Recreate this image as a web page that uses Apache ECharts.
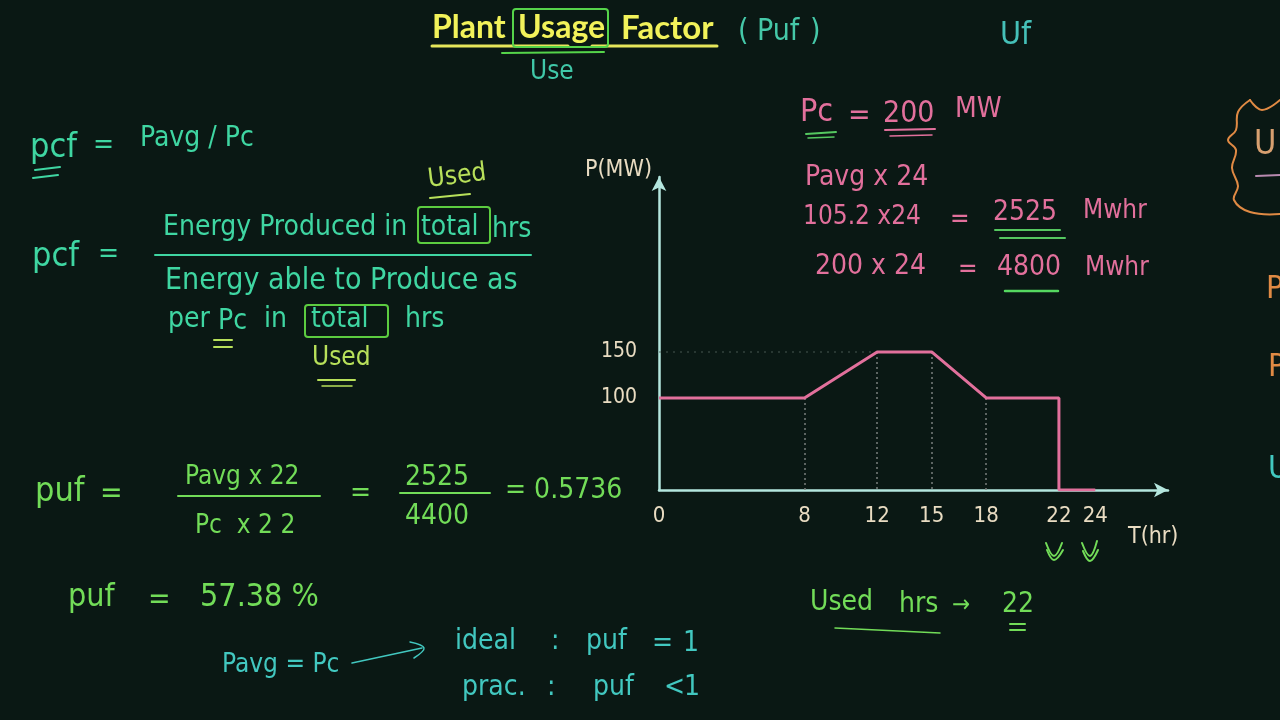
<!DOCTYPE html>
<html>
<head>
<meta charset="utf-8">
<script src="https://cdn.jsdelivr.net/npm/echarts@6/dist/echarts.min.js"></script>
<style>
html,body{margin:0;padding:0;background:#0a1814;}
#chart{width:1280px;height:720px;}
</style>
</head>
<body>
<div id="chart"></div>
<script>
// ---- data ----
var hours = [0, 8, 12, 15, 18, 22, 22, 24];
var power = [100, 100, 150, 150, 100, 100, 0, 0];
var xTickLabels = [0, 8, 12, 15, 18, 22, 24];
var yTickLabels = [100, 150];
var dropHours = [8, 12, 15, 18];
var peakGuide = [0, 12];   // hours spanned by the dotted 150 guide
var peakValue = 150;

var HAND = "'Liberation Sans Narrow','DejaVu Sans Condensed','Noto Sans',sans-serif";
var TICK = "'Liberation Sans Narrow','DejaVu Sans Condensed',sans-serif";
var BEIGE = '#e9dcc2';
var AXIS = '#b4e6de';
var PINK = '#e2709c';
var TEAL = '#3fd6a2';
var GREEN = '#72dc58';
var CYAN = '#42c8c0';
var YGREEN = '#b8e05a';
var ORANGE = '#e08a44';

var lineData = hours.map(function (h, i) { return [h, power[i]]; });
function powerAt(h) { return power[hours.indexOf(h)]; }
var drops = dropHours.map(function (h) {
  return [{ coord: [h, powerAt(h)] }, { coord: [h, 0] }];
});
drops.push([{ coord: [peakGuide[0], peakValue], lineStyle: { color: '#4f5e59', opacity: 0.6, type: [2, 5] } },
            { coord: [peakGuide[1], peakValue] }]);

function T(x, y, text, color, size, extra) {
  var s = { text: text, x: x, y: y, fill: color, font: (extra && extra.bold ? 'bold ' : '') + size + 'px ' + ((extra && extra.family) || HAND), verticalAlign: 'middle', align: (extra && extra.align) || 'left' };
  var el = { type: 'text', style: s, silent: true };
  if (extra && extra.rotation) { el.rotation = extra.rotation; el.originX = x; el.originY = y; }
  return el;
}
function L(x1, y1, x2, y2, color, w) {
  return { type: 'line', shape: { x1: x1, y1: y1, x2: x2, y2: y2 }, style: { stroke: color, lineWidth: w || 2, lineCap: 'round' }, silent: true };
}
function R(x, y, w, h, color) {
  return { type: 'rect', shape: { x: x, y: y, width: w, height: h, r: 3 }, style: { fill: 'none', stroke: color, lineWidth: 2 }, silent: true };
}
function P(points, color, w) {
  return { type: 'polyline', shape: { points: points, smooth: 0.4 }, style: { fill: 'none', stroke: color, lineWidth: w || 2, lineCap: 'round', lineJoin: 'round' }, silent: true };
}

var TITLEF = { bold: true, family: "Lato,'Open Sans',sans-serif" };
var graphics = [
  // title
  T(432, 28, 'Plant', '#f2f25a', 32, TITLEF),
  T(518, 28, 'Usage', '#f2f25a', 32, TITLEF),
  T(621, 28, 'Factor', '#f2f25a', 33, TITLEF),
  L(432, 46, 568, 46, '#e6e65a', 3),
  L(592, 46, 717, 46, '#e6e65a', 3),
  R(513, 9, 95, 38, '#55d44a'),
  L(502, 53, 604, 52, '#55d44a', 2),
  T(738, 32, '(', '#45c8a8', 30),
  T(757, 32, 'Puf', '#45c8a8', 30),
  T(810, 32, ')', '#45c8a8', 30),
  T(530, 72, 'Use', '#40c8a8', 26),
  T(1000, 36, 'Uf', '#45c0b8', 32),

  // pcf = Pavg/Pc
  T(30, 148, 'pcf', TEAL, 34),
  T(93, 146, '=', TEAL, 28),
  T(140, 139, 'Pavg / Pc', TEAL, 28),
  L(35, 170, 60, 167, TEAL, 2), L(33, 178, 58, 175, TEAL, 2),
  T(428, 180, 'Used', YGREEN, 26, { rotation: 0.12 }),
  L(430, 198, 470, 194, YGREEN, 2),

  // pcf fraction
  T(32, 257, 'pcf', TEAL, 34),
  T(98, 255, '=', TEAL, 28),
  T(163, 228, 'Energy Produced in', TEAL, 28),
  T(421, 228, 'total', TEAL, 28),
  T(492, 230, 'hrs', TEAL, 28),
  R(418, 207, 72, 36, '#5ccc40'),
  L(155, 255, 531, 255, TEAL, 2),
  T(165, 281, 'Energy able to Produce as', TEAL, 30),
  T(168, 320, 'per', TEAL, 28),
  T(218, 322, 'Pc', TEAL, 28),
  T(264, 320, 'in', TEAL, 28),
  T(311, 320, 'total', TEAL, 28),
  T(405, 320, 'hrs', TEAL, 28),
  R(305, 305, 83, 32, '#5ccc40'),
  L(214, 340, 232, 340, YGREEN, 2), L(214, 347, 232, 347, YGREEN, 2),
  T(312, 358, 'Used', YGREEN, 26),
  L(318, 380, 355, 380, YGREEN, 2), L(322, 386, 352, 386, YGREEN, 1.5),

  // puf computation
  T(35, 492, 'puf', GREEN, 34),
  T(100, 494, '=', GREEN, 30),
  T(185, 477, 'Pavg x 22', GREEN, 26),
  L(178, 496, 320, 496, GREEN, 2),
  T(195, 526, 'Pc  x 2 2', GREEN, 26),
  T(350, 494, '=', GREEN, 28),
  T(405, 478, '2525', GREEN, 28),
  L(400, 493, 490, 493, GREEN, 2),
  T(405, 517, '4400', GREEN, 28),
  T(505, 491, '= 0.5736', GREEN, 28),
  T(68, 598, 'puf', GREEN, 32),
  T(148, 600, '=', GREEN, 30),
  T(200, 598, '57.38 %', GREEN, 32),

  // ideal / practical
  T(222, 665, 'Pavg = Pc', CYAN, 26),
  L(352, 663, 422, 648, CYAN, 1.5),
  P([[410, 642], [424, 648], [414, 658]], CYAN, 1.5),
  T(455, 642, 'ideal', CYAN, 28),
  T(551, 642, ':', CYAN, 28),
  T(586, 642, 'puf', CYAN, 28),
  T(652, 644, '=', CYAN, 28),
  T(683, 644, '1', CYAN, 28),
  T(462, 688, 'prac.', CYAN, 28),
  T(547, 688, ':', CYAN, 28),
  T(593, 688, 'puf', CYAN, 28),
  T(664, 688, '<', CYAN, 28),
  T(684, 688, '1', CYAN, 28),

  // pink calculations
  T(800, 113, 'Pc', PINK, 32),
  T(848, 116, '=', PINK, 30),
  T(883, 114, '200', PINK, 30),
  T(955, 110, 'MW', PINK, 28),
  L(806, 134, 836, 132, '#55c860', 2), L(808, 138, 834, 137, '#55c860', 1.5),
  L(885, 130, 935, 129, PINK, 2), L(890, 136, 932, 135, PINK, 1.5),
  T(805, 178, 'Pavg x 24', PINK, 28),
  T(803, 217, '105.2 x24', PINK, 26),
  T(950, 220, '=', PINK, 26),
  T(993, 213, '2525', PINK, 28),
  T(1083, 211, 'Mwhr', PINK, 26),
  L(995, 230, 1060, 230, '#55c860', 2), L(1000, 238, 1065, 238, '#55c860', 2),
  T(815, 267, '200 x 24', PINK, 28),
  T(958, 270, '=', PINK, 26),
  T(997, 268, '4800', PINK, 28),
  T(1085, 268, 'Mwhr', PINK, 26),
  L(1005, 291, 1058, 291, '#55d860', 2.5),

  // used hrs
  T(810, 603, 'Used', GREEN, 28),
  T(899, 605, 'hrs', GREEN, 28),
  T(952, 606, '\u2192', GREEN, 24),
  T(1002, 605, '22', GREEN, 28),
  L(835, 628, 940, 633, GREEN, 1.5),
  L(1010, 624, 1025, 624, GREEN, 2), L(1010, 630, 1025, 630, GREEN, 2),
  P([[1046, 543], [1054, 556], [1062, 543]], GREEN, 2),
  P([[1047, 550], [1054, 560], [1063, 550]], GREEN, 2),
  P([[1082, 543], [1090, 556], [1097, 541]], GREEN, 2),
  P([[1083, 551], [1090, 561], [1098, 550]], GREEN, 2),

  // right edge fragments
  P([[1250, 100], [1238, 112], [1236, 130], [1228, 140], [1236, 150], [1232, 168], [1238, 186], [1234, 200], [1250, 212], [1280, 214]], ORANGE, 2),
  P([[1250, 100], [1262, 110], [1280, 100]], ORANGE, 2),
  T(1254, 145, 'U', '#d8a070', 34),
  L(1256, 176, 1280, 175, '#b88ab0', 2),
  T(1266, 290, 'P', ORANGE, 32),
  T(1268, 368, 'P', ORANGE, 32),
  T(1268, 470, 'U', CYAN, 32),

  // axis captions
  T(652, 170, 'P(MW)', BEIGE, 23, { align: 'right', family: TICK }),
  T(1128, 537, 'T(hr)', BEIGE, 23, { family: TICK })
];

var chart = echarts.init(document.getElementById('chart'));
chart.setOption({
  backgroundColor: '#0a1814',
  animation: false,
  grid: { left: 659, top: 177, width: 509, height: 313, containLabel: false },
  xAxis: {
    type: 'value', min: 0, max: 28, interval: 1,
    axisLine: { show: true, lineStyle: { color: AXIS, width: 2.5 }, symbol: ['none', 'arrow'], symbolSize: [11, 14], onZero: true },
    axisTick: { show: false },
    splitLine: { show: false },
    axisLabel: {
      color: BEIGE, fontSize: 22, fontFamily: TICK, margin: 15,
      formatter: function (v) { return xTickLabels.indexOf(v) >= 0 ? String(v) : ''; }
    }
  },
  yAxis: {
    type: 'value', min: 0, max: 340, interval: 10,
    axisLine: { show: true, lineStyle: { color: AXIS, width: 2.5 }, symbol: ['none', 'arrow'], symbolSize: [11, 14] },
    axisTick: { show: false },
    splitLine: { show: false },
    axisLabel: {
      color: BEIGE, fontSize: 21, fontFamily: TICK, margin: 22,
      formatter: function (v) { return yTickLabels.indexOf(v) >= 0 ? String(v) : ''; }
    }
  },
  series: [{
    type: 'line',
    data: lineData,
    showSymbol: false,
    lineStyle: { color: PINK, width: 3 },
    z: 5,
    markLine: {
      silent: true,
      symbol: ['none', 'none'],
      label: { show: false },
      lineStyle: { color: '#7a7f7c', width: 1.5, type: [2, 3] },
      data: drops,
      z: 3
    }
  }],
  graphic: graphics
});
</script>
</body>
</html>
